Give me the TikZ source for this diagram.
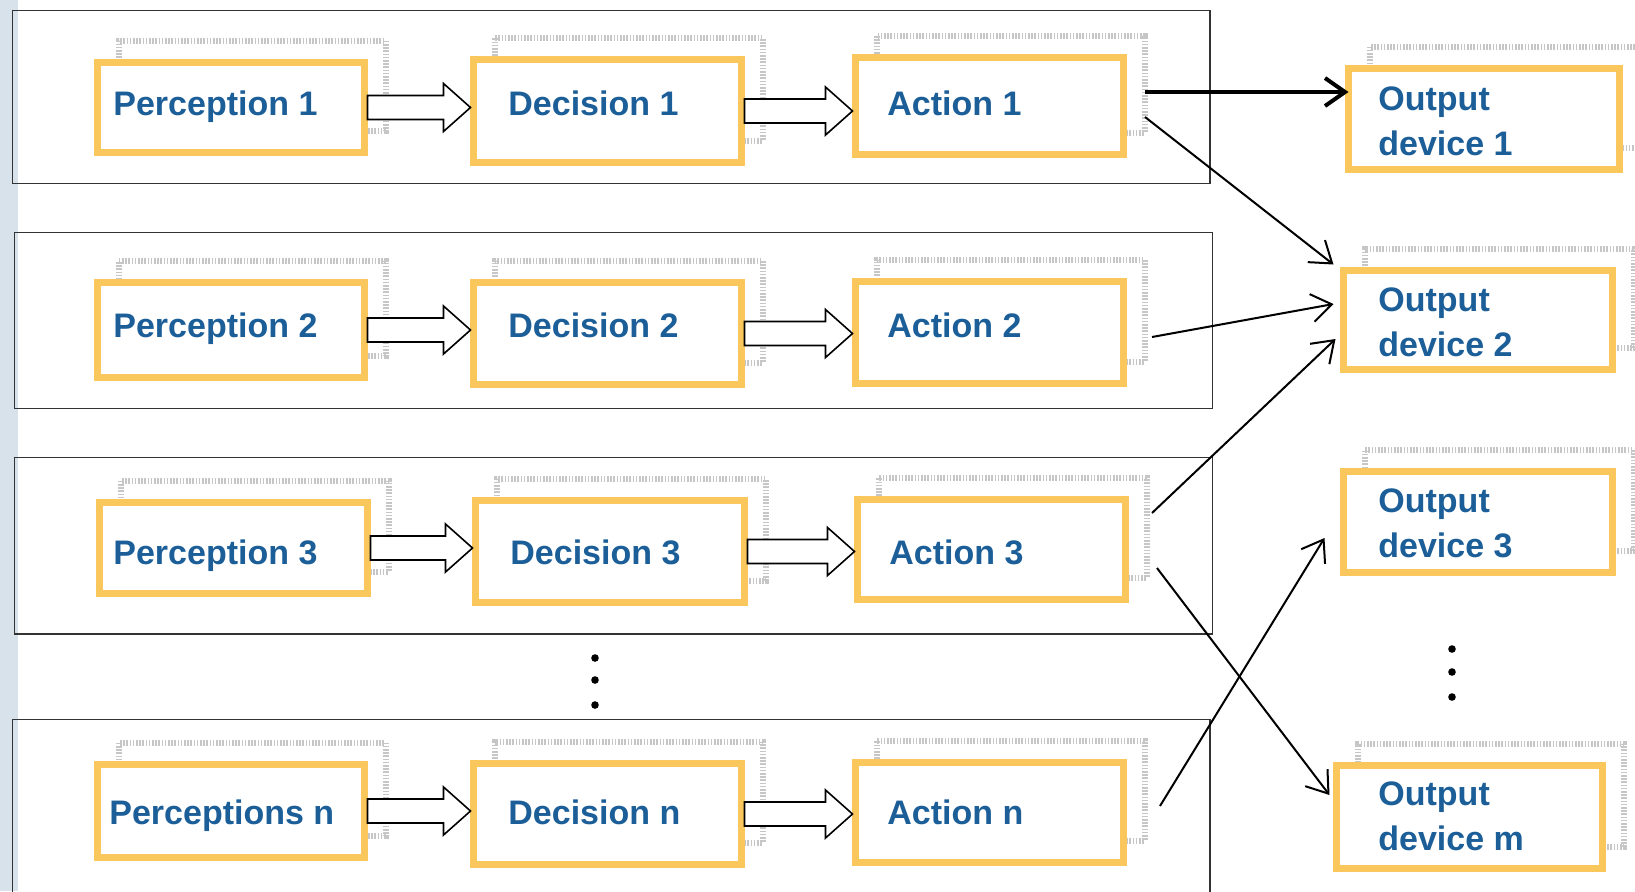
\documentclass[tikz,border=0pt]{standalone}
\usepackage{fontspec}
\setmainfont{Liberation Sans}
\usetikzlibrary{arrows.meta,calc}
\definecolor{boxyellow}{RGB}{249,199,92}
\definecolor{txtblue}{RGB}{27,94,152}
\definecolor{stripcol}{RGB}{216,226,234}
\newcommand{\mkbox}[5]{%
  \pgfmathsetmacro{\bw}{(#4-#2-7)*0.5}%
  \pgfmathsetmacro{\bh}{(#5-#3-7)*0.5}%
  \node[shbox, minimum width=\bw pt, minimum height=\bh pt] (s#1) at ({(#2+#4)/2+21},{(#3+#5)/2-22}) {};
  \node[ybox, minimum width=\bw pt, minimum height=\bh pt] (#1) at ({(#2+#4)/2},{(#3+#5)/2}) {};
}
\newcommand{\blockarr}[2]{%
  \draw[blockarrow] ($(#1.east)+(3,-12)$) -- ($(#2.west |- #1.east)+(-30,-12)$)
    -- ($(#2.west |- #1.east)+(-30,-24)$) -- ($(#2.west |- #1.east)+(-3,0)$)
    -- ($(#2.west |- #1.east)+(-30,24)$) -- ($(#2.west |- #1.east)+(-30,12)$)
    -- ($(#1.east)+(3,12)$) -- cycle;
}
\begin{document}
\begin{tikzpicture}[x=0.5pt,y=-0.5pt,
  ybox/.style={draw=boxyellow, line width=3.5pt, fill=white, inner sep=0pt, outer sep=0pt},
  shbox/.style={draw=gray!45, line width=3pt, dash pattern=on 0.8pt off 0.8pt, inner sep=0pt},
  frame/.style={draw=black!80, line width=0.7pt},
  txt/.style={text=txtblue, font=\fontsize{17pt}{22.5pt}\selectfont\bfseries, inner sep=0pt, anchor=base west},
  conn/.style={line width=1pt, -{Straight Barb[length=10pt,width=14pt]}},
  blockarrow/.style={draw=black, line width=0.8pt, fill=white, line join=miter},
]
\useasboundingbox (0,0) rectangle (1635,891);
\clip (0,0) rectangle (1635,891);
\fill[white] (0,0) rectangle (1635,891);
\fill[stripcol] (0,0) rectangle (18,891);
% row frames
\draw[frame] (12.5,10.5) rectangle (1210,183.5);
\draw[frame] (14.5,232.5) rectangle (1212.5,408.5);
\draw[frame] (14.5,457.5) rectangle (1212.5,634);
\draw[frame] (12.5,719.5) rectangle (1210,920);
% boxes
\mkbox{p1}{94}{59}{368}{156}
\mkbox{d1}{470}{56}{745}{166}
\mkbox{a1}{852}{54}{1127}{158}
\mkbox{o1}{1345}{65}{1623}{173}
\mkbox{p2}{94}{279}{368}{381}
\mkbox{d2}{470}{279}{745}{388}
\mkbox{a2}{852}{278}{1127}{387}
\mkbox{o2}{1340}{267}{1616}{373}
\mkbox{p3}{96}{499}{371}{597}
\mkbox{d3}{472}{497}{748}{606}
\mkbox{a3}{854}{496}{1129}{603}
\mkbox{o3}{1340}{468}{1616}{576}
\mkbox{pn}{94}{761}{368}{861}
\mkbox{dn}{470}{760}{745}{868}
\mkbox{an}{852}{759}{1127}{866}
\mkbox{om}{1333}{762}{1606}{872}
% texts
\node[txt] (tp1) at (113,115) {Perception 1};
\node[txt] (td1) at (508,115) {Decision 1};
\node[txt] (ta1) at (887,115) {Action 1};
\node[txt] (to1a) at (1378,110) {Output};
\node[txt] (to1b) at (1378,155) {device 1};
\node[txt] (tp2) at (113,337) {Perception 2};
\node[txt] (td2) at (508,337) {Decision 2};
\node[txt] (ta2) at (887,337) {Action 2};
\node[txt] (to2a) at (1378,311) {Output};
\node[txt] (to2b) at (1378,356) {device 2};
\node[txt] (tp3) at (113,564) {Perception 3};
\node[txt] (td3) at (510,564) {Decision 3};
\node[txt] (ta3) at (889,564) {Action 3};
\node[txt] (to3a) at (1378,512) {Output};
\node[txt] (to3b) at (1378,557) {device 3};
\node[txt] (tpn) at (109,824) {Perceptions n};
\node[txt] (tdn) at (508,824) {Decision n};
\node[txt] (tan) at (887,824) {Action n};
\node[txt] (toma) at (1378,805) {Output};
\node[txt] (tomb) at (1378,850) {device m};
% block arrows
\blockarr{p1}{d1}
\blockarr{d1}{a1}
\blockarr{p2}{d2}
\blockarr{d2}{a2}
\blockarr{p3}{d3}
\blockarr{d3}{a3}
\blockarr{pn}{dn}
\blockarr{dn}{an}
% connectors
\coordinate (c1) at (1145,92);
\coordinate (c2) at (1145,117);
\coordinate (c3) at (1152,337);
\coordinate (c4) at (1152,513);
\coordinate (c5) at (1157,568);
\coordinate (c6) at (1160,806);
\draw[conn, line width=2pt] (c1) -- (o1.west |- c1);
\draw[conn] (c2) -- ($(o2.north west)+(-10,-6)$);
\draw[conn] (c3) -- ($(o2.west)+(-10,-16)$);
\draw[conn] (c4) -- ($(o2.west)+(-8,19)$);
\draw[conn] (c5) -- ($(om.west)+(-7,-22)$);
\draw[conn] (c6) -- ($(o3.west)+(-19,16)$);
% ellipsis dots
\foreach \yy in {658,680,705} \fill (595,\yy) circle[radius=1.9pt];
\foreach \yy in {649,672,697} \fill (1452,\yy) circle[radius=1.9pt];
\end{tikzpicture}
\end{document}
